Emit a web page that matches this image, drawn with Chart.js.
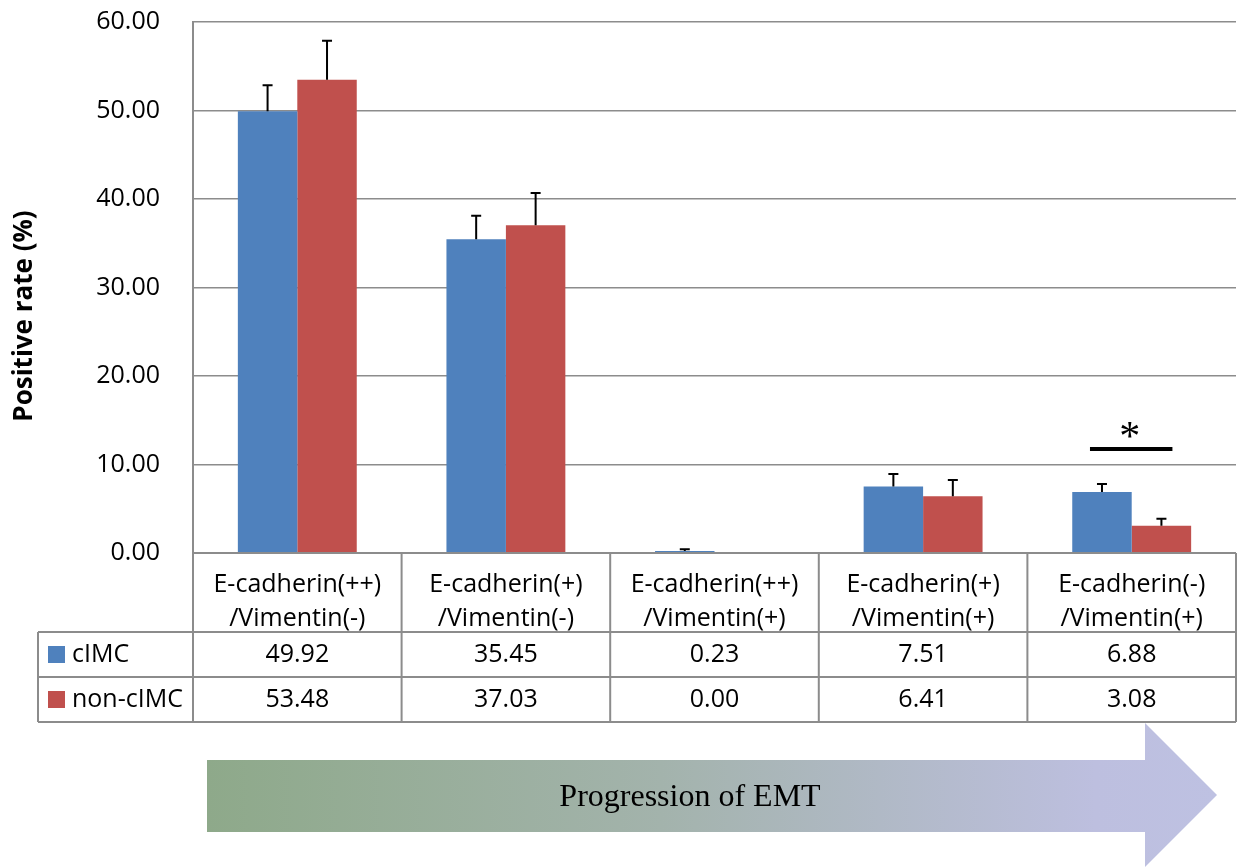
<!DOCTYPE html>
<html>
<head>
<meta charset="utf-8">
<script src="https://cdn.jsdelivr.net/npm/chart.js@4.4.1/dist/chart.umd.min.js"></script>
<style>
  html, body { margin: 0; padding: 0; background: #ffffff; }
  #wrap { width: 1246px; height: 867px; position: relative; }
</style>
</head>
<body>
<div id="wrap"><canvas id="c" width="1246" height="867"></canvas></div>
<script>
// ---------- data ----------
const categories = [
  ['E-cadherin(++)', '/Vimentin(-)'],
  ['E-cadherin(+)', '/Vimentin(-)'],
  ['E-cadherin(++)', '/Vimentin(+)'],
  ['E-cadherin(+)', '/Vimentin(+)'],
  ['E-cadherin(-)', '/Vimentin(+)']
];
const seriesNames = ['cIMC', 'non-cIMC'];
const cimcValues = [49.92, 35.45, 0.23, 7.51, 6.88];
const nonCimcValues = [53.48, 37.03, 0.00, 6.41, 3.08];
const cimcErrors = [2.93, 2.65, 0.19, 1.42, 0.92];
const nonCimcErrors = [4.41, 3.65, 0.00, 1.84, 0.80];
const yMin = 0, yMax = 60, yStep = 10;
const yTitle = 'Positive rate (%)';
const sigCategory = 4;
const sigLevel = 11.75;
const sigMark = '*';
const arrowLabel = 'Progression of EMT';

// ---------- styles ----------
const FONT = '"Open Sans", "Noto Sans", sans-serif';
const FS = 25;
const BLUE = '#4f81bd';
const RED = '#c0504d';
const GRID = '#8c8c8c';
const seriesColors = [BLUE, RED];
const seriesErrors = [cimcErrors, nonCimcErrors];

const errorBarPlugin = {
  id: 'errorBars',
  afterDatasetsDraw(chart) {
    const ctx = chart.ctx;
    const ys = chart.scales.y;
    ctx.save();
    ctx.strokeStyle = '#000';
    ctx.lineWidth = 2;
    chart.data.datasets.forEach((ds, di) => {
      const meta = chart.getDatasetMeta(di);
      meta.data.forEach((bar, i) => {
        const err = seriesErrors[di][i];
        if (!err) return;
        const yTop = ys.getPixelForValue(ds.data[i] + err);
        ctx.beginPath();
        ctx.moveTo(bar.x, bar.y);
        ctx.lineTo(bar.x, yTop);
        ctx.moveTo(bar.x - 5, yTop);
        ctx.lineTo(bar.x + 5, yTop);
        ctx.stroke();
      });
    });
    // significance marker
    const m0 = chart.getDatasetMeta(0).data[sigCategory];
    const m1 = chart.getDatasetMeta(1).data[sigCategory];
    const ySig = ys.getPixelForValue(sigLevel);
    ctx.lineWidth = 4;
    ctx.beginPath();
    ctx.moveTo(m0.x - 12, ySig);
    ctx.lineTo(m1.x + 11, ySig);
    ctx.stroke();
    ctx.fillStyle = '#000';
    ctx.font = '42px "Liberation Serif", "DejaVu Serif", serif';
    ctx.textAlign = 'center';
    ctx.textBaseline = 'alphabetic';
    ctx.fillText(sigMark, (m0.x + m1.x) / 2 - 2, ySig + 1);
    ctx.restore();
  }
};

const tablePlugin = {
  id: 'dataTable',
  afterDraw(chart) {
    const ctx = chart.ctx;
    const ca = chart.chartArea;
    const xs = chart.scales.x;
    const n = categories.length;
    const cw = (ca.right - ca.left) / n;
    const labelBottom = ca.bottom + 79;
    const rowH = 45;
    const tableLeft = 38;
    const tableBottom = labelBottom + rowH * seriesNames.length;
    ctx.save();

    // y axis title
    ctx.save();
    ctx.translate(25, 316);
    ctx.rotate(-Math.PI / 2);
    ctx.fillStyle = '#000';
    ctx.font = 'bold 26px ' + FONT;
    ctx.textAlign = 'center';
    ctx.textBaseline = 'middle';
    ctx.fillText(yTitle, 0, 0);
    ctx.restore();

    ctx.strokeStyle = GRID;
    ctx.lineWidth = 2;
    ctx.beginPath();
    ctx.moveTo(ca.left, ca.bottom); ctx.lineTo(ca.right, ca.bottom);
    for (let r = 0; r <= seriesNames.length; r++) {
      const y = labelBottom + r * rowH;
      ctx.moveTo(tableLeft, y); ctx.lineTo(ca.right, y);
    }
    ctx.moveTo(tableLeft, labelBottom); ctx.lineTo(tableLeft, tableBottom);
    ctx.moveTo(ca.left, ca.top); ctx.lineTo(ca.left, tableBottom);
    for (let i = 1; i <= n; i++) {
      const x = ca.left + i * cw;
      ctx.moveTo(x, ca.bottom); ctx.lineTo(x, tableBottom);
    }
    ctx.stroke();

    ctx.font = FS + 'px ' + FONT;
    ctx.textBaseline = 'middle';
    seriesNames.forEach((name, r) => {
      const yc = labelBottom + r * rowH + rowH / 2;
      ctx.fillStyle = seriesColors[r];
      ctx.fillRect(48, yc - 8.5, 17, 17);
      ctx.fillStyle = '#000';
      ctx.textAlign = 'left';
      ctx.fillText(name, 72, yc);
      const vals = chart.data.datasets[r].data;
      ctx.textAlign = 'center';
      vals.forEach((v, i) => {
        ctx.fillText(v.toFixed(2), xs.getPixelForValue(i), yc);
      });
    });

    // EMT arrow
    const ax0 = 207, ax1 = 1145, tip = 1217;
    const bTop = 760, bBot = 832, hTop = 723, hBot = 867;
    const yMid = (bTop + bBot) / 2 - 1;
    const g = ctx.createLinearGradient(ax0, 0, tip, 0);
    g.addColorStop(0, '#8ea98a');
    g.addColorStop(0.45, '#a3b3ac');
    g.addColorStop(0.88, '#bdbfdf');
    g.addColorStop(1, '#bec1e2');
    ctx.fillStyle = g;
    ctx.beginPath();
    ctx.moveTo(ax0, bTop);
    ctx.lineTo(ax1, bTop);
    ctx.lineTo(ax1, hTop);
    ctx.lineTo(tip, yMid);
    ctx.lineTo(ax1, hBot);
    ctx.lineTo(ax1, bBot);
    ctx.lineTo(ax0, bBot);
    ctx.closePath();
    ctx.fill();
    ctx.fillStyle = '#000';
    ctx.font = '32px "Liberation Serif", "DejaVu Serif", serif';
    ctx.textAlign = 'center';
    ctx.textBaseline = 'alphabetic';
    ctx.fillText(arrowLabel, 690, 806);
    ctx.restore();
  }
};

new Chart(document.getElementById('c'), {
  type: 'bar',
  data: {
    labels: categories,
    datasets: seriesNames.map((name, i) => ({
      label: name,
      data: i === 0 ? cimcValues : nonCimcValues,
      backgroundColor: seriesColors[i],
      borderWidth: 0
    }))
  },
  options: {
    responsive: false,
    animation: false,
    layout: { autoPadding: false, padding: { top: 22, right: 10, left: 0, bottom: 0 } },
    plugins: { legend: { display: false }, tooltip: { enabled: false } },
    datasets: { bar: { barPercentage: 1, categoryPercentage: 0.57 } },
    scales: {
      x: {
        grid: { display: false },
        border: { display: false },
        ticks: {
          color: '#000',
          font: { family: FONT, size: FS, lineHeight: 1.36 },
          padding: 7,
          maxRotation: 0,
          autoSkip: false
        },
        afterFit(s) { s.height = 314; s.paddingLeft = 0; s.paddingRight = 0; }
      },
      y: {
        min: yMin,
        max: yMax,
        ticks: {
          stepSize: yStep,
          color: '#000',
          font: { family: FONT, size: FS },
          padding: 33,
          callback: v => Number(v).toFixed(2)
        },
        grid: { color: GRID, lineWidth: 1.5, drawTicks: false },
        border: { display: true, color: GRID, width: 2 },
        title: { display: false },
        afterFit(s) { s.width = 193; s.paddingTop = 0; s.paddingBottom = 0; }
      }
    }
  },
  plugins: [errorBarPlugin, tablePlugin]
});
</script>
</body>
</html>
